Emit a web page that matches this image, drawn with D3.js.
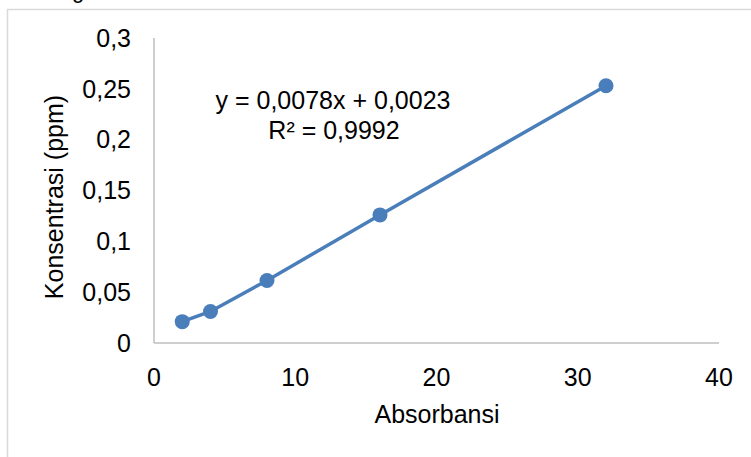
<!DOCTYPE html>
<html>
<head>
<meta charset="utf-8">
<script src="https://cdn.jsdelivr.net/npm/d3@7"></script>
<style>
  body { margin: 0; background: #fff; }
  text { font-family: 'Liberation Sans', Arial, sans-serif; fill: #000; }
</style>
</head>
<body>
<script>
// data
var absorbansi = [2, 4, 8, 16, 32];
var konsentrasi = [0.021, 0.031, 0.0615, 0.126, 0.253];
var xTicks = [0, 10, 20, 30, 40];
var yTicks = [0, 0.05, 0.1, 0.15, 0.2, 0.25, 0.3];
var equation = ['y = 0,0078x + 0,0023', 'R² = 0,9992'];

var width = 751;
var height = 457;
var blue = '#4a7ebb';
var fs = 25;

var svg = d3.select('body').append('svg').attr('width', width).attr('height', height);

// outer frame of the chart (cut off at right and bottom)
svg.append('rect')
  .attr('x', 7.5).attr('y', 9.5)
  .attr('width', 760).attr('height', 470)
  .attr('fill', 'none').attr('stroke', '#d9d9d9').attr('stroke-width', 1.5);

// stray descender of text above the chart
svg.append('text').attr('x', 72).attr('y', -2).attr('font-size', 22).text('g');

var x = d3.scaleLinear().domain([0, 40]).range([154, 719]);
var y = d3.scaleLinear().domain([0, 0.3]).range([343, 38]);

var fmt = function (d) { return String(d).replace('.', ','); };

// axis lines
svg.append('line')
  .attr('x1', x(0)).attr('x2', x(0)).attr('y1', y(0)).attr('y2', y(0.3))
  .attr('stroke', '#bfbfbf').attr('stroke-width', 1.5);
svg.append('line')
  .attr('x1', x(0)).attr('x2', x(40)).attr('y1', y(0)).attr('y2', y(0))
  .attr('stroke', '#bfbfbf').attr('stroke-width', 1.5);

// tick labels
svg.selectAll('.ytick').data(yTicks).enter().append('text')
  .attr('class', 'ytick')
  .attr('x', 131)
  .attr('y', function (d) { return y(d); })
  .attr('dy', '0.35em')
  .attr('text-anchor', 'end')
  .attr('font-size', fs)
  .text(fmt);

svg.selectAll('.xtick').data(xTicks).enter().append('text')
  .attr('class', 'xtick')
  .attr('x', function (d) { return x(d); })
  .attr('y', 386)
  .attr('text-anchor', 'middle')
  .attr('font-size', fs)
  .text(fmt);

// axis titles
svg.append('text')
  .attr('x', 437).attr('y', 423)
  .attr('text-anchor', 'middle').attr('font-size', fs)
  .text('Absorbansi');

svg.append('text')
  .attr('transform', 'translate(63,197) rotate(-90)')
  .attr('text-anchor', 'middle').attr('font-size', fs)
  .text('Konsentrasi (ppm)');

// series
var pts = absorbansi.map(function (d, i) { return [d, konsentrasi[i]]; });

var line = d3.line()
  .x(function (d) { return x(d[0]); })
  .y(function (d) { return y(d[1]); });

svg.append('path')
  .datum(pts)
  .attr('d', line)
  .attr('fill', 'none')
  .attr('stroke', blue)
  .attr('stroke-width', 3.5);

svg.selectAll('.dot').data(pts).enter().append('circle')
  .attr('class', 'dot')
  .attr('cx', function (d) { return x(d[0]); })
  .attr('cy', function (d) { return y(d[1]); })
  .attr('r', 7.5)
  .attr('fill', blue);

// trendline equation
svg.append('text')
  .attr('x', 333).attr('y', 109)
  .attr('text-anchor', 'middle').attr('font-size', fs)
  .text(equation[0]);
svg.append('text')
  .attr('x', 334).attr('y', 139)
  .attr('text-anchor', 'middle').attr('font-size', fs)
  .text(equation[1]);
</script>
</body>
</html>
